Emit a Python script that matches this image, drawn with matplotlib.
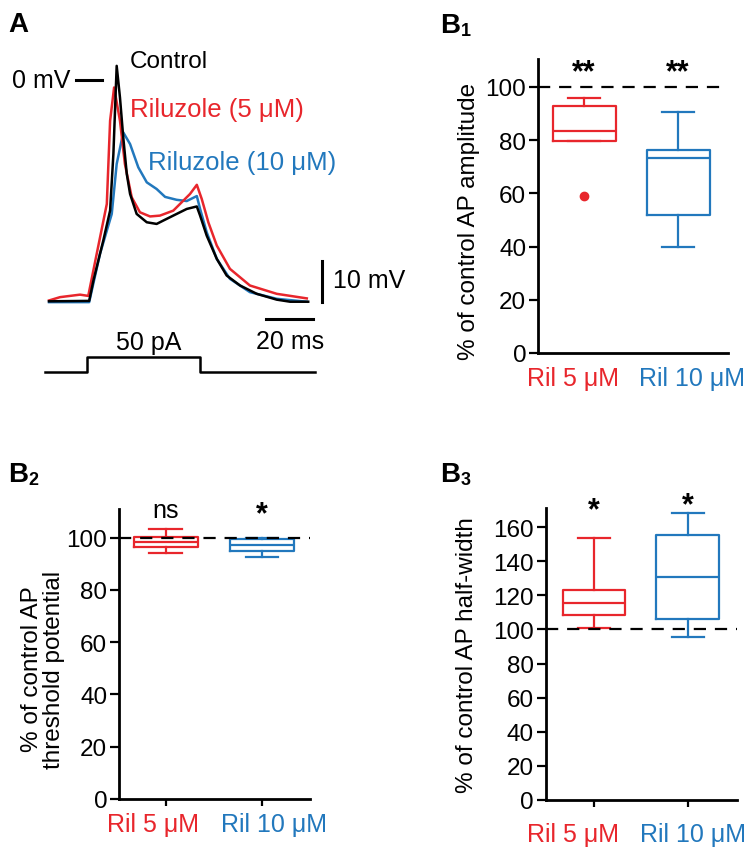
import matplotlib
matplotlib.use('Agg')
import matplotlib.pyplot as plt

plt.rcParams['font.family'] = ['Liberation Sans', 'DejaVu Sans']

RED = '#e8262c'
BLUE = '#2278bd'

# --- A: membrane potential traces (time in ms, mV) ---
ctrl_t = [0, 17.1, 18.9, 23.1, 26.0, 27.4, 28.8, 30.2, 31.6, 33.1, 34.5, 37.3, 41.6, 45.8,
          48.6, 54.3, 58.6, 62.9, 64.3, 67.1, 71.4, 75.6, 81.3, 88.4, 96.9, 102.6, 110.3]
ctrl_v = [-53.2, -53.1, -48.2, -38.6, -31.4, -17.8, 3.4, -4.2, -13.8, -22.6, -27.4, -32.2, -34.2, -34.6,
          -33.8, -32.2, -31.0, -30.4, -32.6, -37.4, -43.0, -47.0, -49.4, -51.4, -52.8, -53.3, -53.3]

ril5_t = [0, 4.7, 13.2, 16.7, 20.3, 24.6, 26.0, 27.7, 30.2, 32.3, 35.2, 38.7, 43.0, 47.2,
          52.9, 60.0, 62.9, 65.0, 67.8, 71.4, 77.0, 85.5, 96.9, 109.7]
ril5_v = [-53.0, -52.2, -51.6, -51.9, -41.8, -29.8, -9.8, -1.8, -9.8, -20.2, -28.2, -31.8, -32.8, -32.6,
          -31.4, -27.4, -25.2, -28.6, -34.2, -39.8, -45.4, -49.4, -51.4, -52.5]

ril10_t = [0, 17.1, 21.7, 26.7, 28.8, 31.6, 34.5, 38.0, 41.6, 45.8, 49.4, 54.3, 58.6, 62.9,
           64.3, 67.1, 71.4, 77.0, 85.5, 96.9, 109.7]
ril10_v = [-53.4, -53.4, -41.8, -32.2, -20.2, -12.6, -15.4, -21.0, -24.6, -26.2, -28.1, -28.8, -29.1, -27.9,
           -31.0, -36.6, -43.0, -47.8, -51.0, -52.6, -53.3]

step_t = [-1.7, 16.3, 16.3, 64.3, 64.3, 113.2]
step_pa = [0, 0, 50, 50, 0, 0]

# --- B: box plot summaries (whislo, q1, median, q3, whishi), % of control ---
groups = ['Ril 5 μM', 'Ril 10 μM']
amp_5 = [79.7, 79.7, 83.6, 92.9, 96.0]
amp_10 = [39.7, 51.9, 73.4, 76.4, 90.5]
amp_5_out = [59.0]
thr_5 = [94.0, 96.6, 98.5, 100.4, 103.5]
thr_10 = [92.7, 94.9, 97.4, 99.6, 99.9]
hw_5 = [100.6, 108.6, 115.7, 123.3, 153.7]
hw_10 = [95.5, 106.3, 131.0, 155.2, 168.0]

fig = plt.figure(figsize=(7.53, 8.53), dpi=100)


def px_axes(left, top, right, bottom):
    return fig.add_axes([left / 753, 1 - bottom / 853, (right - left) / 753, (bottom - top) / 853])


# Panel A
axA = px_axes(0, 0, 380, 390)
axA.set_xlim(-20.85, 140.85)
axA.set_ylim(-74.28, 19.47)
axA.axis('off')
axA.plot(ril10_t, ril10_v, color=BLUE, lw=1.8)
axA.plot(ril5_t, ril5_v, color=RED, lw=1.8)
axA.plot(ctrl_t, ctrl_v, color='black', lw=1.8)
axA.plot(step_t, [-70.3 + p * 3.6 / 50 for p in step_pa], color='black', lw=1.8)
# scale bars and 0 mV marker
axA.plot([116.2, 116.2], [-53.4, -43.4], color='black', lw=2.2)
axA.plot([92.3, 112.3], [-57.5, -57.5], color='black', lw=2.2)
axA.plot([11.5, 22.6], [0, 0], color='black', lw=2.2)
axA.text(8.9, 0, '0 mV', ha='right', va='center', fontsize=18)
axA.text(120.9, -48.1, '10 mV', ha='left', va='center', fontsize=18)
axA.text(102.6, -62.7, '20 ms', ha='center', va='center', fontsize=18)
axA.text(42.3, -63.0, '50 pA', ha='center', va='center', fontsize=18)
axA.text(34.5, 4.6, 'Control', ha='left', va='center', fontsize=17.5)
axA.text(34.5, -7.0, 'Riluzole (5 μM)', ha='left', va='center', fontsize=18.5, color=RED)
axA.text(42.3, -19.8, 'Riluzole (10 μM)', ha='left', va='center', fontsize=18.5, color=BLUE)


def box_panel(ax, d5, d10, out5, ylim, yticks, xlim, ylabel, lab_x, lab_y, sig, sig_y,
              xtick_len, lab_dx, lab_dy):
    stats = []
    for d, f in [(d5, out5), (d10, [])]:
        stats.append(dict(whislo=d[0], q1=d[1], med=d[2], q3=d[3], whishi=d[4], fliers=f))
    b = ax.bxp(stats, positions=[1, 2], widths=0.67, capwidths=0.34, showfliers=True)
    for i, c in enumerate([RED, BLUE]):
        b['boxes'][i].set(color=c, lw=1.6)
        b['medians'][i].set(color=c, lw=1.6)
        for art in b['whiskers'][2 * i:2 * i + 2] + b['caps'][2 * i:2 * i + 2]:
            art.set(color=c, lw=1.6)
        b['fliers'][i].set(marker='o', markerfacecolor=c, markeredgecolor=c, markersize=6)
    ax.axhline(100, color='black', lw=1.6, ls=(0, (5.5, 4)), zorder=3)
    ax.set_xlim(*xlim)
    ax.set_ylim(*ylim)
    ax.set_yticks(yticks)
    ax.set_xticks([1, 2])
    ax.set_xticklabels(['', ''])
    # group names sit a little apart from the tick marks, as in the original
    for pos, name, c, dx in zip([1, 2], groups, [RED, BLUE], lab_dx):
        ax.annotate(name, xy=(pos, 0), xycoords=('data', 'axes fraction'),
                    xytext=(dx * 0.72, -lab_dy * 0.72), textcoords='offset points',
                    ha='center', va='center', fontsize=18, color=c, annotation_clip=False)
    ax.spines['top'].set_visible(False)
    ax.spines['right'].set_visible(False)
    ax.spines['left'].set_linewidth(2)
    ax.spines['bottom'].set_linewidth(2)
    ax.tick_params(axis='y', length=6.5, width=1.6, labelsize=17.5, pad=2)
    ax.tick_params(axis='x', length=xtick_len, width=1.6)
    ax.set_ylabel(ylabel, fontsize=17.5, linespacing=1.0)
    ax.yaxis.set_label_coords(lab_x, lab_y)
    for pos, s, y in zip([1, 2], sig, sig_y):
        ax.text(pos, y, s, ha='center', va='center', fontsize=22 if s != 'ns' else 18,
                fontweight='bold' if s != 'ns' else 'normal', clip_on=False)


axB1 = px_axes(538, 60, 728, 354)
box_panel(axB1, amp_5, amp_10, amp_5_out, (0, 110.5), range(0, 101, 20), (0.51, 2.53),
          '% of control AP amplitude', -0.305, 0.452, ['**', '**'], [105.5, 105.5], 0,
          [-11.5, 13.5], 25)

axB2 = px_axes(119, 510, 310, 800)
box_panel(axB2, thr_5, thr_10, [], (0, 111), range(0, 101, 20), (0.514, 2.5),
          '% of control AP\nthreshold potential', -0.283, 0.45, ['ns', '*'], [110.5, 109], 5,
          [-13, 11.6], 25)

axB3 = px_axes(545.7, 509.3, 736.7, 801)
box_panel(axB3, hw_5, hw_10, [], (0, 171), range(0, 161, 20), (0.485, 2.52),
          '% of control AP half-width', -0.354, 0.5, ['*', '*'], [170, 173], 5,
          [-21.5, 5], 34)

# panel letters
fig.text(8 / 753, 1 - 32 / 853, 'A', fontsize=20, fontweight='bold')
for x, y, sub in [(440, 33, '1'), (8, 482, '2'), (440, 482, '3')]:
    fig.text(x / 753, 1 - y / 853, 'B', fontsize=20, fontweight='bold')
    fig.text((x + 20.5) / 753, 1 - (y + 3) / 853, sub, fontsize=13, fontweight='bold')

fig.savefig('out.png', dpi=100)
